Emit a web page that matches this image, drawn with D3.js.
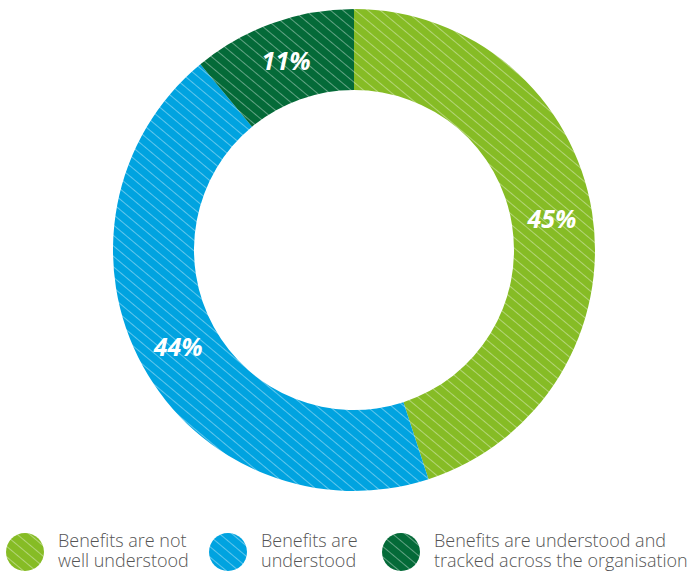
<!DOCTYPE html>
<html>
<head>
<meta charset="utf-8">
<script src="https://cdn.jsdelivr.net/npm/d3@7"></script>
<style>
  body { margin: 0; background: #fff; }
  svg { display: block; }
  .pct { font-family: 'Open Sans', sans-serif; font-weight: 700; font-style: italic; fill: #fff; }
  .legend-text { font-family: 'Open Sans', sans-serif; font-weight: 300; fill: #555; }
</style>
</head>
<body>
<svg width="690" height="572"></svg>
<script>
const categories = ['Benefits are not well understood', 'Benefits are understood', 'Benefits are understood and tracked across the organisation'];
const values = [45, 44, 11];
const legendLines = [
    ['Benefits are not', 'well understood'],
    ['Benefits are', 'understood'],
    ['Benefits are understood and', 'tracked across the organisation']
];
const colors = ['#86bc25', '#00a3e0', '#046a38'];

const svg = d3.select('svg');

const cx = 354, cy = 250;
const outerR = 241, innerR = 160;

// diagonal stripe patterns
const defs = svg.append('defs');
const gap = 8;
colors.forEach((c, i) => {
    const p = defs.append('pattern')
        .attr('id', 'stripe' + i)
        .attr('patternUnits', 'userSpaceOnUse')
        .attr('width', gap)
        .attr('height', gap)
        .attr('patternTransform', 'rotate(-50)');
    p.append('rect').attr('width', gap).attr('height', gap).attr('fill', c);
    p.append('line')
        .attr('x1', 0).attr('y1', 0).attr('x2', 0).attr('y2', gap)
        .attr('stroke', 'rgba(255,255,255,0.38)')
        .attr('stroke-width', 2);
});

const data = categories.map((c, i) => ({cat: c, value: values[i], i}));

const pie = d3.pie().value(d => d.value).sort(null);
const arc = d3.arc().innerRadius(innerR).outerRadius(outerR);

const g = svg.append('g').attr('transform', `translate(${cx}, ${cy})`);

const arcs = pie(data);

g.selectAll('path').data(arcs)
    .enter().append('path')
        .attr('d', arc)
        .attr('fill', d => `url(#stripe${d.data.i})`);

g.selectAll('text').data(arcs)
    .enter().append('text')
        .attr('class', 'pct')
        .attr('transform', d => `translate(${arc.centroid(d)})`)
        .attr('text-anchor', 'middle')
        .attr('dy', '0.36em')
        .attr('font-size', 25)
        .text(d => d.data.value + '%');

// legend
const legendX = [25, 228, 401];
const legend = svg.append('g').attr('transform', 'translate(0, 552)');

const items = legend.selectAll('g').data(data)
    .enter().append('g')
        .attr('transform', (d, i) => `translate(${legendX[i]}, 0)`);

items.append('circle')
    .attr('r', 19)
    .attr('fill', d => `url(#stripe${d.i})`);

items.append('text')
    .attr('class', 'legend-text')
    .attr('x', 33)
    .attr('y', -5)
    .attr('font-size', 18)
    .selectAll('tspan').data(d => legendLines[d.i])
    .enter().append('tspan')
        .attr('x', 33)
        .attr('dy', (d, j) => j === 0 ? 0 : 20)
        .text(d => d);
</script>
</body>
</html>
